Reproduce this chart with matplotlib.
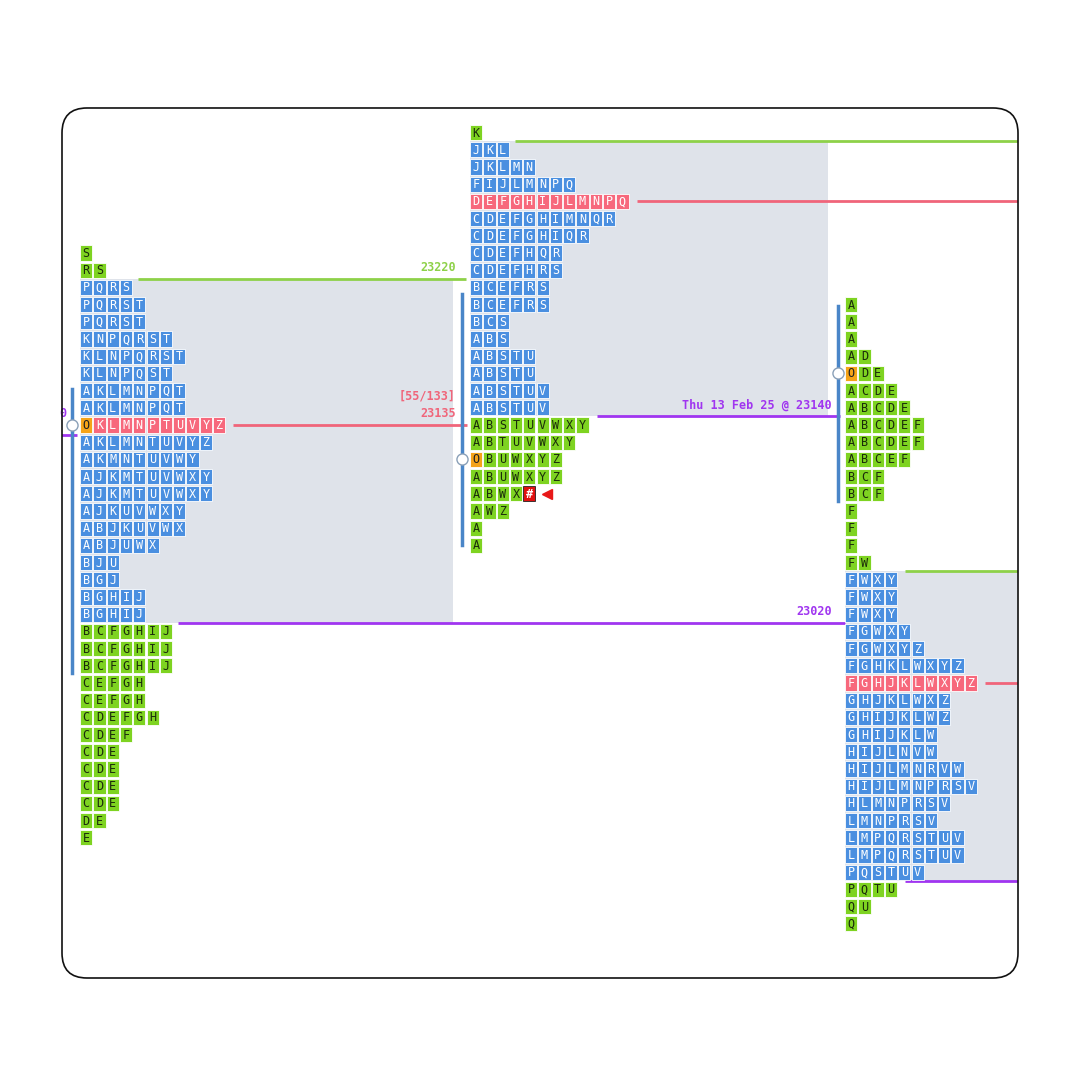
import matplotlib
matplotlib.use("Agg")
import matplotlib.pyplot as plt
from matplotlib.patches import FancyBboxPatch, Rectangle

# ---- data ----
left_rows = ["S","RS","PQRS","PQRST","PQRST","KNPQRST","KLNPQRST","KLNPQST","AKLMNPQT","AKLMNPQT",
             "OKLMNPTUVYZ","AKLMNTUVYZ","AKMNTUVWY","AJKMTUVWXY","AJKMTUVWXY","AJKUVWXY","ABJKUVWX",
             "ABJUWX","BJU","BGJ","BGHIJ","BGHIJ","BCFGHIJ","BCFGHIJ","BCFGHIJ","CEFGH","CEFGH",
             "CDEFGH","CDEF","CDE","CDE","CDE","CDE","DE","E"]
left_top = 23235
left_va = (2, 21); left_poc = 10

mid_rows = ["K","JKL","JKLMN","FIJLMNPQ","DEFGHIJLMNPQ","CDEFGHIMNQR","CDEFGHIQR","CDEFHQR","CDEFHRS",
            "BCEFRS","BCEFRS","BCS","ABS","ABSTU","ABSTU","ABSTUV","ABSTUV","ABSTUVWXY","ABTUVWXY",
            "OBUWXYZ","ABUWXYZ","ABWX#","AWZ","A","A"]
mid_top = 23305
mid_va = (1, 16); mid_poc = 4

right_rows = ["A","A","A","AD","ODE","ACDE","ABCDE","ABCDEF","ABCDEF","ABCEF","BCF","BCF","F","F","F",
              "FW","FWXY","FWXY","FWXY","FGWXY","FGWXYZ","FGHKLWXYZ","FGHJKLWXYZ","GHJKLWXZ","GHIJKLWZ",
              "GHIJKLW","HIJLNVW","HIJLMNRVW","HIJLMNPRSV","HLMNPRSV","LMNPRSV","LMPQRSTUV","LMPQRSTUV",
              "PQSTUV","PQTU","QU","Q"]
right_top = 23205
right_va = (16, 33); right_poc = 22

tick = 10
labels = {"vah_left": "23220", "poc_left": "23135", "tpo_left": "[55/133]",
          "npoc_mid": "Thu 13 Feb 25 @ 23140", "val_left": "23020"}

# ---- style ----
BLUE = "#4a8fe0"; GREEN = "#7ed321"; RED = "#f7687c"; ORANGE = "#f5a318"
GREY = "#dfe3ea"; LGREEN = "#8ed149"; LRED = "#f0657a"; PURPLE = "#a035f0"; IB = "#4a86c8"
PITCH = 13.3; CW = 12.2; CH = 8.9
FONT = "DejaVu Sans Mono"

fig = plt.figure(figsize=(10.8, 10.8), dpi=100)
ax = fig.add_axes([0, 0, 1, 1])
ax.set_xlim(0, 1080)
ax.set_ylim(22754.2, 23382.1)
ax.axis("off")

frame = FancyBboxPatch((62, 22754.2 + (1080 - 978) / 1.72), 956, 870 / 1.72,
                       boxstyle="round,pad=0,rounding_size=25", mutation_aspect=1 / 1.72,
                       fc="none", ec="#111111", lw=1.2, zorder=10)
ax.add_patch(frame)
arts = []

def draw_profile(rows, top, x0, va, poc):
    for i, r in enumerate(rows):
        p = top - tick * i
        for j, ch in enumerate(r):
            if i == poc:
                fc, tc = RED, "white"
            elif va[0] <= i <= va[1]:
                fc, tc = BLUE, "white"
            else:
                fc, tc = GREEN, "#1a2a0a"
            if ch == "O":
                fc, tc = ORANGE, "#222222"
            ec = "white"
            if ch == "#":
                fc, tc, ec = "#e01010", "white", "#222222"
            x = x0 + j * PITCH
            arts.append(ax.add_patch(Rectangle((x, p - CH / 2), CW, CH, fc=fc, ec=ec, lw=0.6, zorder=3)))
            arts.append(ax.text(x + CW / 2, p - 0.3, ch, ha="center", va="center", fontsize=8.5,
                                family=FONT, color=tc, zorder=4,
                                fontweight="bold" if ch == "#" else "normal"))

# value area shading
def shade(x0, x1, top, va):
    hi = top - tick * va[0] + tick / 2
    lo = top - tick * va[1] - tick / 2
    arts.append(ax.add_patch(Rectangle((x0, lo), x1 - x0, hi - lo, fc=GREY, ec="none", zorder=1)))
    return hi, lo

lh, ll = shade(80, 453, left_top, left_va)
mh, ml = shade(470, 828, mid_top, mid_va)
rh, rl = shade(845, 1030, right_top, right_va)

draw_profile(left_rows, left_top, 80, left_va, left_poc)
draw_profile(mid_rows, mid_top, 470, mid_va, mid_poc)
draw_profile(right_rows, right_top, 845, right_va, right_poc)

def hline(y, x0, x1, c, lw=2):
    arts.extend(ax.plot([x0, x1], [y, y], color=c, lw=lw, zorder=2, solid_capstyle="butt"))

lpoc = left_top - tick * left_poc
mpoc = mid_top - tick * mid_poc
rpoc = right_top - tick * right_poc
hline(lh, 138, 466, LGREEN)
hline(lpoc, 233, 467, LRED)
hline(ll, 178, 845, PURPLE)
hline(mh, 515, 1030, LGREEN)
hline(mpoc, 637, 1030, LRED)
hline(ml, 597, 840, PURPLE)
hline(rh, 905, 1030, LGREEN)
hline(rpoc, 985, 1030, LRED)
hline(rl, 905, 1030, PURPLE)
hline(23129, 55, 77, PURPLE)
arts.append(ax.text(66, 23138, "0", ha="right", va="bottom", color=PURPLE, fontsize=8.5,
                    family=FONT, fontweight="bold"))

# initial balance bars + open markers
for x, a, b, c in [(72, 23156, 22991, lpoc), (462, 23211, 23065, 23115), (838, 23204, 23091, 23165)]:
    arts.extend(ax.plot([x, x], [a, b], color=IB, lw=2.5, zorder=2))
    arts.extend(ax.plot([x], [c], "o", ms=8, mfc="white", mec="#8aa0b8", mew=1, zorder=5))

arts.extend(ax.plot([547], [mid_top - tick * 21], marker="<", ms=7, color="#e81818", zorder=5, ls="none"))

kw = dict(family=FONT, fontsize=8.5, fontweight="bold", zorder=6)
arts.append(ax.text(456, lh + 3, labels["vah_left"], ha="right", va="bottom", color=LGREEN, **kw))
arts.append(ax.text(456, lpoc + 13, labels["tpo_left"], ha="right", va="bottom", color=LRED, **kw))
arts.append(ax.text(456, lpoc + 3, labels["poc_left"], ha="right", va="bottom", color=LRED, **kw))
arts.append(ax.text(832, ml + 3, labels["npoc_mid"], ha="right", va="bottom", color=PURPLE, **kw))
arts.append(ax.text(832, ll + 3, labels["val_left"], ha="right", va="bottom", color=PURPLE, **kw))

for a in arts:
    a.set_clip_path(frame)

fig.savefig("out.png", dpi=100, facecolor="white")
